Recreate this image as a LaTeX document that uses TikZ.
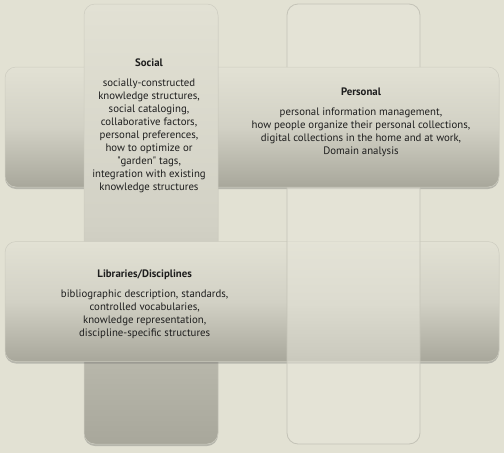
\documentclass[tikz,border=0pt]{standalone}
\usepackage{fontspec}
\setmainfont{PT Sans}
\usetikzlibrary{shadows}
\definecolor{bg}{HTML}{E2E1D3}
\definecolor{barTop}{HTML}{E2E1D4}
\definecolor{barMid}{HTML}{D2D1C5}
\definecolor{barBot}{HTML}{A8A79B}
\definecolor{ghost}{HTML}{E6E5D9}
\definecolor{ghostEdge}{HTML}{C4C3B7}
\definecolor{barEdge}{HTML}{CDCCC0}
\definecolor{ink}{HTML}{1E1E1E}
\tikzset{
  hbar/.style={rounded corners=11pt, minimum width=494pt, minimum height=120pt,
    inner sep=0pt, top color=barTop, bottom color=barBot, middle color=barMid,
    draw=barEdge, line width=0.5pt,
    drop shadow={shadow xshift=0pt, shadow yshift=-2pt, opacity=0.35, fill=black!60}},
  vbar/.style={rounded corners=11pt, minimum width=134pt, minimum height=440pt,
    inner sep=0pt, top color=barTop, bottom color=barBot, middle color=barMid,
    draw=barEdge, line width=0.5pt,
    drop shadow={shadow xshift=0pt, shadow yshift=-2pt, opacity=0.35, fill=black!60}},
  ghostbar/.style={rounded corners=11pt, minimum width=133pt, minimum height=440pt,
    inner sep=0pt, fill=ghost, fill opacity=0.55, draw=ghostEdge, line width=0.8pt},
  title/.style={font=\fontsize{10.8}{13}\selectfont\bfseries, text=ink, inner sep=0pt, anchor=base},
  body/.style={font=\fontsize{10.8}{13}\selectfont, text=ink, align=center, inner sep=0pt, anchor=north},
}
\begin{document}
\begin{tikzpicture}[x=1pt,y=-1pt]
\useasboundingbox (0,0) rectangle (504,453);
\fill[bg] (0,0) rectangle (504,453);
% horizontal and vertical bars, woven
\node[hbar] (personalbar) at (252,127) {};
\node[vbar] (socialbar) at (151,224) {};
\node[hbar] (librariesbar) at (252,301.5) {};
\begin{scope}
  \clip (0,0) rectangle (504,67) (0,187.5) rectangle (504,453);
  \node[ghostbar] (rightbar) at (353.5,224) {};
\end{scope}
% texts
\node[title] (socialtitle) at (149,66.5) {Social};
\node[body] (socialtext) at (149,79) {socially-constructed\\knowledge structures,\\social cataloging,\\collaborative factors,\\personal preferences,\\how to optimize or\\\textquotedbl garden\textquotedbl{} tags,\\integration with existing\\knowledge structures};
\node[title] (personaltitle) at (361,95) {Personal};
\node[body] (personaltext) at (361,107.5) {personal information management,\\how people organize their personal collections,\\digital collections in the home and at work,\\Domain analysis};
\node[title] (librariestitle) at (144.7,277) {Libraries/Disciplines};
\node[body] (librariestext) at (144.7,289.5) {bibliographic description, standards,\\controlled vocabularies,\\knowledge representation,\\discipline-specific structures};
\end{tikzpicture}
\end{document}
